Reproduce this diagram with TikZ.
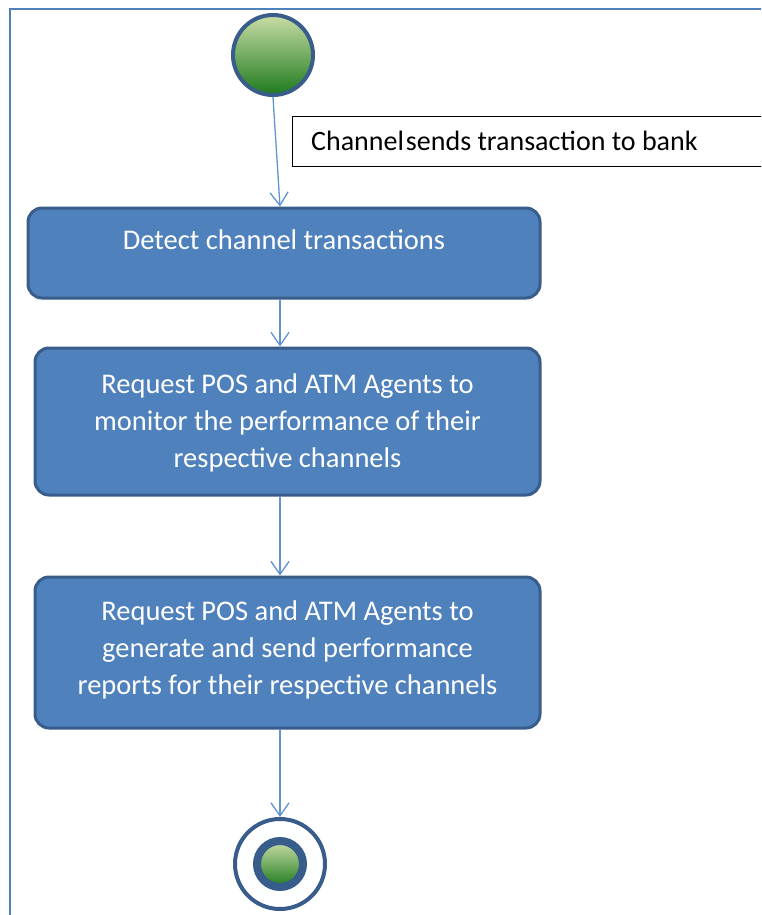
\documentclass[tikz,border=0pt]{standalone}
\usepackage{fontspec}
\setmainfont{Carlito}
\usetikzlibrary{arrows.meta}

\definecolor{actfill}{HTML}{4F81BD}
\definecolor{actedge}{HTML}{385D8A}
\definecolor{flow}{HTML}{6294D2}
\definecolor{framecol}{HTML}{4F81BD}
\definecolor{glight}{HTML}{C9DDA6}
\definecolor{gdark}{HTML}{1E7A1E}

\begin{document}
\begin{tikzpicture}[x=1pt,y=-1pt,
  activity/.style={rectangle, draw=actedge, fill=actfill, line width=3pt,
    rounded corners=14pt, inner sep=0pt},
  acttext/.style={text=white, font=\fontsize{28.5}{37}\selectfont,
    align=center, inner sep=0pt},
  notebox/.style={rectangle, draw=black, line width=1.4pt, fill=white, inner sep=0pt},
  notetext/.style={font=\fontsize{28}{32}\selectfont, inner sep=0pt, anchor=west},
  flowline/.style={draw=flow, line width=1.3pt,
    -{Straight Barb[length=13pt,width=18pt,line width=1.3pt]}},
  startdot/.style={circle, draw=actedge, line width=4pt, inner sep=0pt,
    top color=glight, bottom color=gdark},
  endring/.style={circle, draw=actedge, line width=4pt, fill=white, inner sep=0pt},
  frameline/.style={draw=framecol, line width=2.8pt}
]
\clip (0,0) rectangle (761,915);
\fill[white] (0,0) rectangle (761,915);

% outer frame
\draw[frameline] (10,920) -- (10,9) -- (770,9);

% note attached to the first flow
\node[notebox, anchor=north west, minimum width=520pt, minimum height=50pt] (note) at (292,116) {};
\node[notetext] (notelabel) at (311,141) {Channel\hspace{2pt}sends transaction to bank};

% initial node
\node[startdot, minimum size=80pt] (start) at (273,55) {};

% activities
\node[activity, minimum width=512pt, minimum height=90pt] (detect) at (284,253) {};
\node[acttext] (detectlabel) at (284,240) {Detect channel transactions};

\node[activity, minimum width=505pt, minimum height=147pt] (monitor) at (287.5,421.5) {};
\node[acttext] (monitorlabel) at (287.5,423) {Request POS and ATM Agents to\\monitor the performance of their\\respective channels};

\node[activity, minimum width=505pt, minimum height=151pt] (report) at (287.5,652.5) {};
\node[acttext] (reportlabel) at (287.5,650) {Request POS and ATM Agents to\\generate and send performance\\reports for their respective channels};

% final node
\node[endring, minimum size=90pt] (final) at (280,864) {};
\node[startdot, line width=8pt, minimum size=46pt] (finaldot) at (280,864) {};

% control flow
\draw[flowline] (start.south) -- ([xshift=-4pt]detect.north);
\draw[flowline] ([xshift=-4pt]detect.south) -- ([xshift=-7.5pt]monitor.north);
\draw[flowline] ([xshift=-7.5pt]monitor.south) -- ([xshift=-7.5pt]report.north);
\draw[flowline] ([xshift=-7.5pt]report.south) -- (final.north);
\end{tikzpicture}
\end{document}
